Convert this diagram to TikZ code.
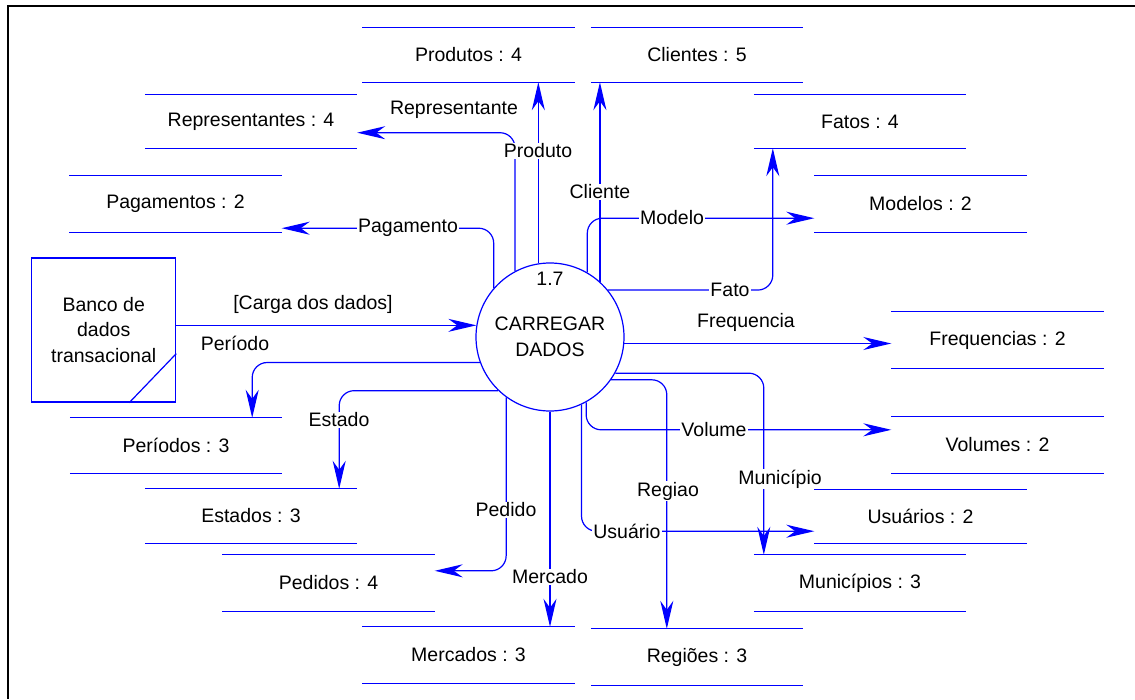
\documentclass[tikz,border=0pt]{standalone}
\usepackage{fontspec}
\setmainfont{Liberation Sans}
\usetikzlibrary{arrows.meta}

% data store: a label between two horizontal lines
\newcommand\datastore[4]{%
  \node[storetext, minimum height=#3] (#1) at (#2) {#4};
  \draw[line] (#1.north west) -- (#1.north east) (#1.south west) -- (#1.south east);}

\begin{document}
\begin{tikzpicture}[x=1pt,y=-1pt,
  every node/.style={font=\fontsize{19.5pt}{25.5pt}\selectfont, text=black},
  line/.style={draw=blue, line width=1.2pt},
  flow/.style={line, rounded corners=15pt, -{Stealth[length=28pt,width=13pt,inset=9pt]}},
  storetext/.style={minimum width=212pt, inner sep=0pt},
  lab/.style={fill=white, inner sep=1pt},
  proc/.style={circle, draw=blue, line width=1.2pt, fill=white, minimum size=148pt, inner sep=0pt, align=center},
  entity/.style={draw=blue, line width=1.2pt, minimum width=144pt, minimum height=144pt, inner sep=0pt, align=center}]

\useasboundingbox (0,0) rectangle (1135,699);
\draw[line width=2pt] (1135,5.5) -- (7.5,5.5) -- (7.5,699);

% data stores
\datastore{prod}{468.5,55}{54pt}{Produtos : 4}
\datastore{cli}{697,55}{54pt}{Clientes : 5}
\datastore{rep}{251,121.5}{53pt}{Representantes : 4}
\datastore{fat}{860,121.5}{53pt}{Fatos : 4}
\datastore{pag}{175.5,204}{56pt}{Pagamentos : 2}
\datastore{mod}{920.5,204}{56pt}{Modelos : 2}
\datastore{per}{176,445.5}{55pt}{Períodos : 3}
\datastore{est}{251,516}{54pt}{Estados : 3}
\datastore{ped}{328.5,583}{56pt}{Pedidos : 4}
\datastore{mer}{468.5,655}{56pt}{Mercados : 3}
\datastore{reg}{697,657}{56pt}{Regiões : 3}
\datastore{mun}{860,583}{56pt}{Municípios : 3}
\datastore{usu}{920.5,516.5}{53pt}{Usuários : 2}
\datastore{vol}{997.5,445}{56pt}{Volumes : 2}
\datastore{fre}{997.5,340}{56pt}{Frequencias : 2}

% process and external entity
\node[proc] (p) at (550,337) {CARREGAR\\DADOS};
\node (pid) at ([yshift=58pt]p.center) {1.7};
\node[entity] (ext) at (103.7,330) {Banco de\\dados\\transacional};
\draw[line] ([yshift=49pt]ext.south east) -- ([xshift=-47pt]ext.south east);

% data flows
\draw[flow] (ext.east |- p.171) -- (p.171);
\draw[flow] (p.-160) -| ([xshift=-30pt]per.north east);
\draw[flow] (p.-134) -| ([xshift=-18pt]est.north east);
\draw[flow] (p.139) |- ([yshift=4pt]pag.south east);
\draw[flow] (p.118) |- ([yshift=15.5pt]rep.south east);
\draw[flow] (p.99) -- (p.99 |- prod.south);
\draw[flow] (p.48) -- (p.48 |- cli.south);
\draw[flow] (p.60) |- ([yshift=14pt]mod.south west);
\draw[flow] (p.39) -| ([xshift=19pt]fat.south west);
\draw[flow] (p.-5) -- (p.-5 -| fre.west);
\draw[flow] (p.-29) -| ([xshift=10pt]mun.north west);
\draw[flow] (p.-35) -| ([xshift=76pt]reg.north west);
\draw[flow] (p.-61) |- ([yshift=-13pt]vol.north west);
\draw[flow] (p.-65) |- ([yshift=12pt]usu.south west);
\draw[flow] (p.-90) -- (p.-90 |- mer.north);
\draw[flow] (p.-126) |- ([yshift=-16pt]ped.north east);

% flow labels
\node (lcarga) at (313,304) {[Carga dos dados]};
\node (lper) at (235,343) {Período};
\node[lab] (lest) at (339,420) {Estado};
\node[lab] (lpag) at (408,228) {Pagamento};
\node (lrep) at (454,110) {Representante};
\node[lab] (lprod) at (538,151) {Produto};
\node[lab] (lcli) at (600,192) {Cliente};
\node[lab] (lmod) at (672,218) {Modelo};
\node[lab] (lfat) at (730,290) {Fato};
\node (lfre) at (746,322) {Frequencia};
\node[lab] (lvol) at (714,430) {Volume};
\node[lab] (lmun) at (780,479) {Município};
\node[lab] (lreg) at (668,491) {Regiao};
\node[lab] (lusu) at (627,531) {Usuário};
\node[lab] (lmer) at (550,577) {Mercado};
\node[lab] (lped) at (506,510) {Pedido};
\end{tikzpicture}
\end{document}
